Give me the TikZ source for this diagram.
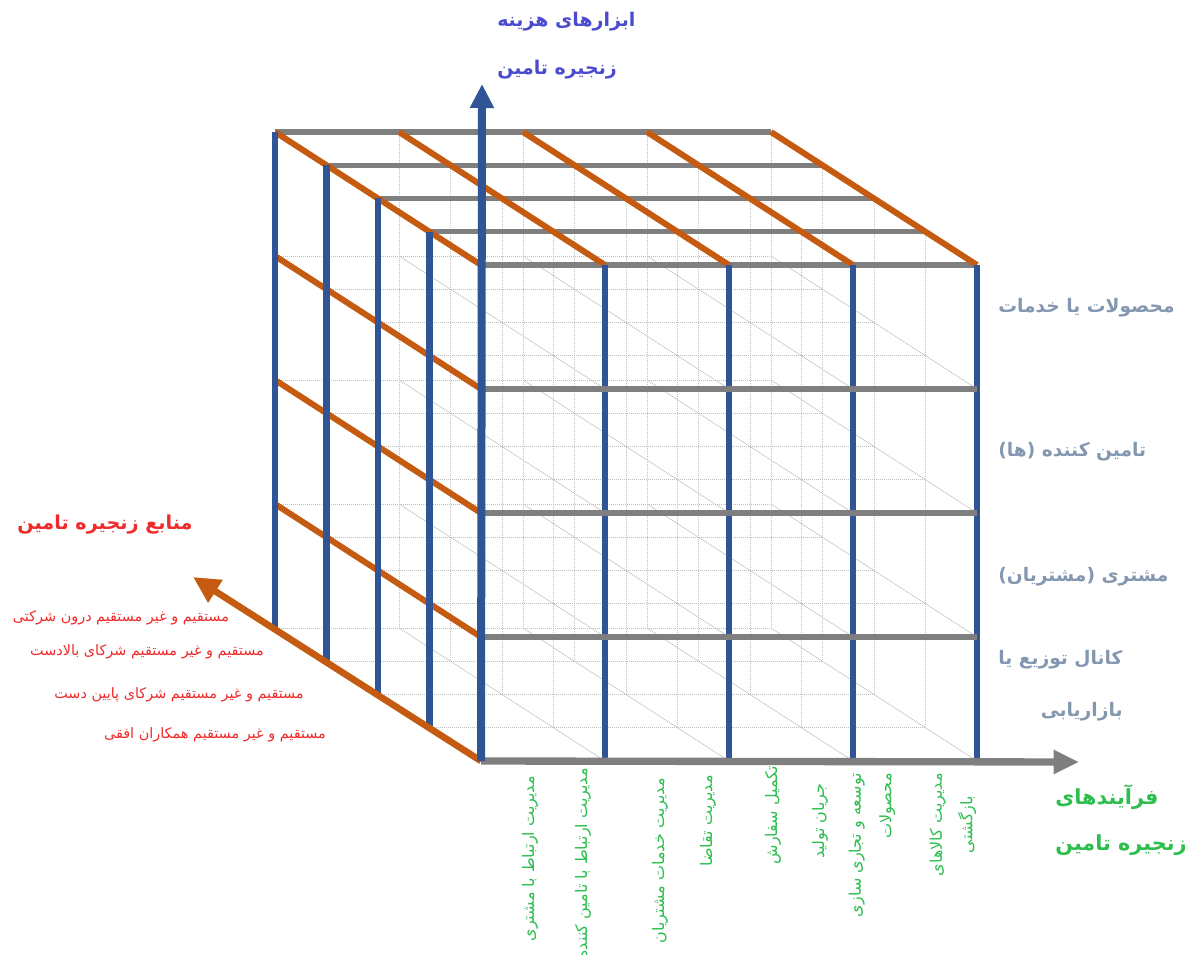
\documentclass[tikz,border=0pt]{standalone}
\usepackage{fontspec}
\newfontfamily\arabicfont[Script=Arabic]{DejaVu Sans}
\TeXXeTstate=1
\usepackage{xcolor}
\usetikzlibrary{arrows.meta}
\definecolor{axisblue}{HTML}{2F5597}
\definecolor{rust}{HTML}{C55A11}
\definecolor{bargray}{HTML}{7F7F7F}
\definecolor{gridgray}{HTML}{BFBFBF}
\definecolor{costtext}{HTML}{4B4BCF}
\definecolor{redtext}{HTML}{EE2A2A}
\definecolor{slate}{HTML}{8497B0}
\definecolor{leaf}{HTML}{2DBE4E}
\tikzset{
  gridline/.style={draw=gridgray, densely dotted, line width=0.5pt},
  depthline/.style={draw=gray!50, line width=0.4pt},
  graybar/.style={draw=bargray, line width=4pt},
  rustbar/.style={draw=rust, line width=4.5pt},
  bluebar/.style={draw=axisblue, line width=4.6pt},
  costlabel/.style={font=\arabicfont\bfseries\fontsize{14.2}{36}\selectfont, text=costtext, align=left, anchor=west, inner sep=0pt},
  sourcehead/.style={font=\arabicfont\bfseries\fontsize{14.4}{15}\selectfont, text=redtext, inner sep=0pt},
  sourceitem/.style={font=\arabicfont\fontsize{10.8}{12}\selectfont, text=redtext, inner sep=0pt},
  dimlabel/.style={font=\arabicfont\bfseries\fontsize{14}{39}\selectfont, text=slate, align=right, anchor=west, inner sep=0pt},
  procitem/.style={font=\arabicfont\fontsize{12}{23}\selectfont, text=leaf, rotate=90, anchor=east, inner sep=0pt},
  prochead/.style={font=\arabicfont\bfseries\fontsize{15.6}{34}\selectfont, text=leaf, align=left, anchor=west, inner sep=0pt}
}
\begin{document}
\begin{tikzpicture}[x=0.75pt, y=-0.75pt]
  \useasboundingbox (0,0) rectangle (1194,955);
  % lattice points: \i depth layer (0 = back), \j row (0 = top), \k column
  \foreach \i in {0,...,4}
    \foreach \j in {0,...,4}
      \foreach \k in {0,...,4}
        \coordinate (p\i\j\k) at ({275+51.5*\i+124*\k},{132+33.25*\i+124*\j});
  % thin inner grid
  \foreach \i in {0,...,4}
    \foreach \j in {0,...,4}
      \draw[gridline] (p\i\j0) -- (p\i\j4);
  \foreach \i in {0,...,4}
    \foreach \k in {0,...,4}
      \draw[gridline] (p\i0\k) -- (p\i4\k);
  \foreach \j in {0,...,4}
    \foreach \k in {0,...,4}
      \draw[depthline] (p0\j\k) -- (p4\j\k);
  % visible faces
  \foreach \i in {0,...,4} \draw[graybar] (p\i00) -- (p\i04);
  \foreach \k in {0,...,4} \draw[rustbar] (p00\k) -- (p40\k);
  \foreach \j in {1,2,3} \draw[rustbar] (p0\j0) -- (p4\j0);
  \foreach \i in {0,...,3} \draw[bluebar] (p\i00) -- (p\i40);
  \foreach \k in {1,...,4} \draw[bluebar] (p40\k) -- (p44\k);
  \foreach \j in {1,2,3} \draw[graybar] (p4\j0) -- (p4\j4);
  % axes
  \coordinate (costtip) at (482,84);
  \coordinate (proctip) at (1079,762);
  \coordinate (srctip) at (193,577);
  \draw[rustbar, line width=5pt, -{Triangle[length=20pt,width=19pt]}] (p440) -- (srctip);
  \draw[graybar, line width=5.5pt, -{Triangle[length=19pt,width=17pt]}] (p440) -- (proctip);
  \draw[bluebar, line width=6pt, -{Triangle[length=18pt,width=17pt]}] (p440) -- (costtip);

  \node[costlabel] (cost) at (497,46) {\beginR ابزارهای هزینه\endR\\\beginR زنجیره تامین\endR};

  \node[sourcehead] (srchead) at (105,525) {\beginR منابع زنجیره تامین\endR};
  \node[sourceitem] (src1) at (121,618) {\beginR مستقیم و غیر مستقیم درون شرکتی\endR};
  \node[sourceitem] (src2) at (147,652) {\beginR مستقیم و غیر مستقیم شرکای بالادست\endR};
  \node[sourceitem] (src3) at (179,695) {\beginR مستقیم و غیر مستقیم شرکای پایین دست\endR};
  \node[sourceitem] (src4) at (215,735) {\beginR مستقیم و غیر مستقیم همکاران افقی\endR};

  \node[dimlabel] (prod) at (998,308) {\beginR محصولات یا خدمات\endR};
  \node[dimlabel] (supp) at (998,452) {\beginR تامین کننده (ها)\endR};
  \node[dimlabel] (cust) at (998,577) {\beginR مشتری (مشتریان)\endR};
  \node[dimlabel] (chan) at (998,686) {\beginR کانال توزیع یا\endR\\\beginR بازاریابی\endR};

  \node[procitem] (crm) at (530,776) {\beginR مدیریت ارتباط با مشتری\endR};
  \node[procitem] (srm) at (583,768) {\beginR مدیریت ارتباط با تامین کننده\endR};
  \node[procitem] (csm) at (660,778) {\beginR مدیریت خدمات مشتریان\endR};
  \node[procitem] (dem) at (708,775) {\beginR مدیریت تقاضا\endR};
  \node[procitem] (ord) at (773,766) {\beginR تکمیل سفارش\endR};
  \node[procitem] (mfg) at (820,783) {\beginR جریان تولید\endR};
  \node[procitem, align=right] (dev) at (872,773) {\beginR توسعه و تجاری سازی\endR\\\beginR محصولات\endR};
  \node[procitem, align=center] (ret) at (953,773) {\beginR مدیریت کالاهای\endR\\\beginR بازگشتی\endR};

  \node[prochead] (prochd) at (1055,820) {\beginR فرآیندهای\endR\\\beginR زنجیره تامین\endR};
\end{tikzpicture}
\end{document}
